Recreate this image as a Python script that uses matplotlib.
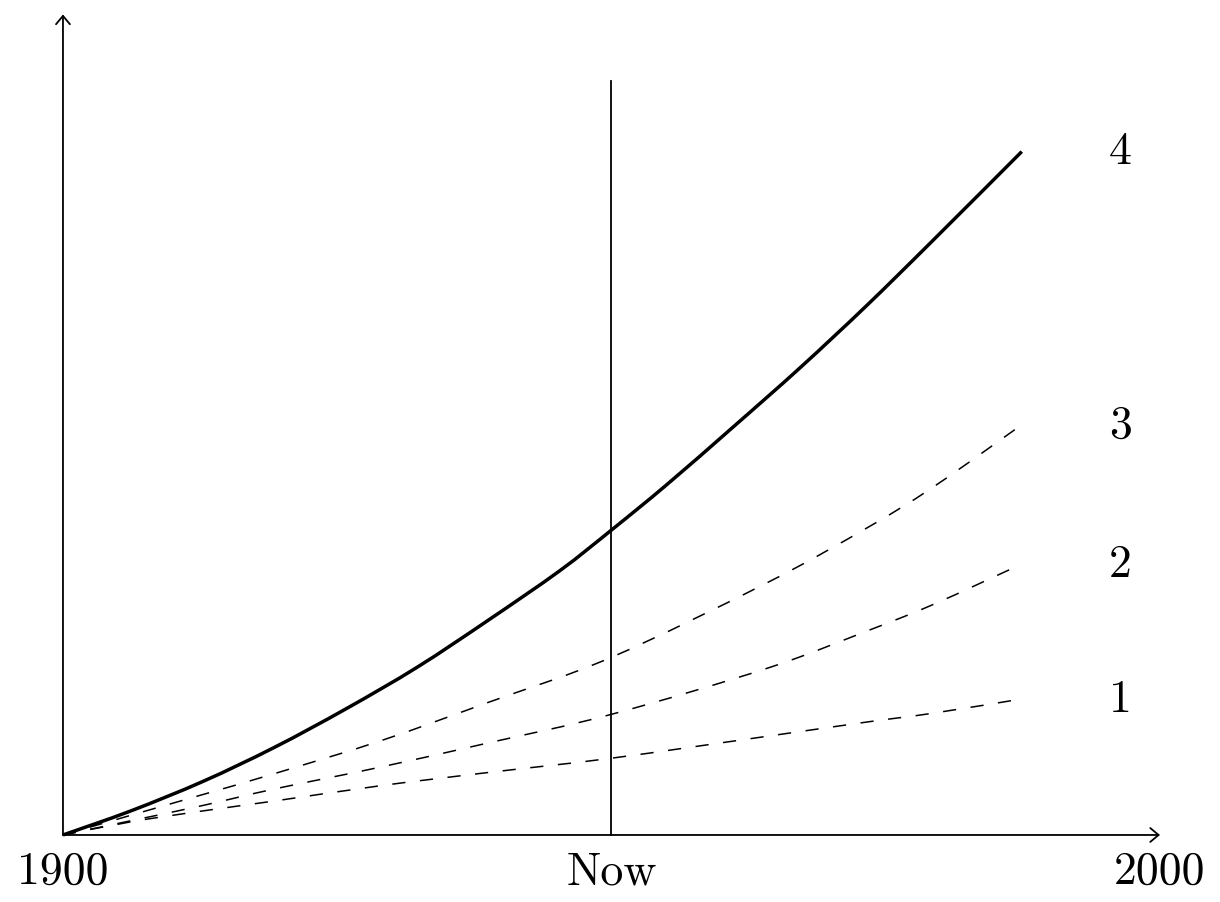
import matplotlib.pyplot as plt
from matplotlib.path import Path
from matplotlib.patches import PathPatch

# values (x in axis units: 0 = 1900, 10 = 2000)
x_solid = [0, 0.62, 1.28, 1.93, 2.58, 3.23, 3.88, 4.53, 5.0, 5.5, 6.11,
           6.72, 7.33, 7.93, 8.74]
curve4 = [0, 0.22, 0.49, 0.80, 1.15, 1.53, 1.96, 2.41, 2.78, 3.19, 3.72,
          4.26, 4.83, 5.42, 6.23]

x_dash = [0, 0.62, 1.28, 1.93, 2.90, 3.88, 5.0, 6.42, 7.33, 7.93, 8.74]
curve3 = [0, 0.18, 0.37, 0.56, 0.86, 1.21, 1.62, 2.30, 2.80, 3.17, 3.74]
curve2 = [0, 0.13, 0.27, 0.42, 0.62, 0.84, 1.10, 1.52, 1.86, 2.10, 2.47]
curve1 = [0, 0.12, 0.22, 0.31, 0.45, 0.57, 0.70, 0.90, 1.03, 1.11, 1.24]

x_ticks = [0, 5, 10]
x_tick_labels = ["1900", "Now", "2000"]
curve_labels = ["1", "2", "3", "4"]

x_max = 10
y_max = 7.48
now_top = 6.87

plt.rcParams['lines.scale_dashes'] = False


def smooth_path(xs, ys):
    # плавная кривая через точки (Catmull-Rom -> кубические Безье)
    pts = list(zip(xs, ys))
    n = len(pts)
    verts = [pts[0]]
    codes = [Path.MOVETO]
    for i in range(n - 1):
        p0 = pts[max(i - 1, 0)]
        p1 = pts[i]
        p2 = pts[i + 1]
        p3 = pts[min(i + 2, n - 1)]
        c1 = (p1[0] + (p2[0] - p0[0]) / 6, p1[1] + (p2[1] - p0[1]) / 6)
        c2 = (p2[0] - (p3[0] - p1[0]) / 6, p2[1] - (p3[1] - p1[1]) / 6)
        verts += [c1, c2, p2]
        codes += [Path.CURVE4] * 3
    return Path(verts, codes)


fig = plt.figure(figsize=(12.2, 9.03), dpi=100)
ax = fig.add_axes([0, 0, 1, 1])
ax.set_xlim(-0.574, 10.547)
ax.set_ylim(-0.611, 7.621)
ax.axis('off')

arrow = dict(arrowstyle='->,head_length=0.3,head_width=0.25', lw=1.3,
             color='black', shrinkA=0, shrinkB=0, mutation_scale=20)
ax.annotate('', xy=(x_max, 0), xytext=(0, 0), arrowprops=arrow)
ax.annotate('', xy=(0, y_max), xytext=(0, 0), arrowprops=arrow)

# вертикальная линия "Now"
ax.plot([5, 5], [0, now_top], color='black', lw=1.3)

ax.add_patch(PathPatch(smooth_path(x_solid, curve4), fill=False,
                       edgecolor='black', lw=2.5, capstyle='butt'))
for ys in [curve3, curve2, curve1]:
    ax.add_patch(PathPatch(smooth_path(x_dash, ys), fill=False,
                           edgecolor='black', lw=1.1, capstyle='butt',
                           linestyle=(0, (9.5, 10.5))))

for xt, lab in zip(x_ticks, x_tick_labels):
    ax.text(xt, -0.33, lab, ha='center', va='center', fontsize=33,
            family='cmr10')

ends = [curve1[-1], curve2[-1], curve3[-1], curve4[-1]]
for lab, yv in zip(curve_labels, ends):
    ax.text(9.64, yv, lab, ha='center', va='center', fontsize=33,
            family='cmr10')

plt.savefig('out.png', dpi=100)
